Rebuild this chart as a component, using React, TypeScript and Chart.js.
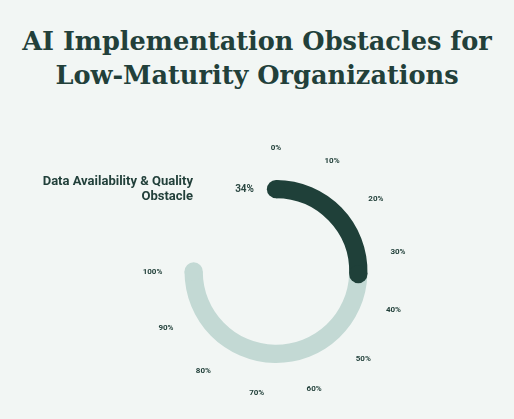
import React, { useEffect, useRef } from "react";
import { Chart, registerables } from "chart.js";

Chart.register(...registerables);

const titleLines = ["AI Implementation Obstacles for", "Low-Maturity Organizations"];
const categories = ["Data Availability & Quality Obstacle"];
const categoryLines = ["Data Availability & Quality", "Obstacle"];
const values = [34];
const maxValue = 100;
const tickValues = [0, 10, 20, 30, 40, 50, 60, 70, 80, 90, 100];
const tickLabels = tickValues.map((v) => `${v}%`);

const BG = "#f2f6f4";
const DARK = "#1f4039";
const TRACK = "#c3d9d4";
const TEXT = "#22403a";

const gaugePlugin = {
  id: "gaugeDecor",
  afterDatasetsDraw(chart: any) {
    const meta = chart.getDatasetMeta(0);
    const arcs = meta.data;
    if (!arcs.length) return;
    const first = arcs[0];
    const last = arcs[arcs.length - 1];
    const cx = first.x;
    const cy = first.y;
    const outer = first.outerRadius;
    const inner = first.innerRadius;
    const mid = (outer + inner) / 2;
    const capR = (outer - inner) / 2;
    const start = first.startAngle;
    const end = last.endAngle;
    const span = end - start;
    const ctx = chart.ctx;
    const pt = (a: number, r: number) => [cx + Math.cos(a) * r, cy + Math.sin(a) * r];
    ctx.save();
    // track end cap
    let [x, y] = pt(end, mid);
    ctx.fillStyle = TRACK;
    ctx.beginPath();
    ctx.arc(x, y, capR, 0, Math.PI * 2);
    ctx.fill();
    // value caps
    ctx.fillStyle = DARK;
    [x, y] = pt(first.startAngle, mid);
    ctx.beginPath();
    ctx.arc(x, y, capR, 0, Math.PI * 2);
    ctx.fill();
    [x, y] = pt(first.endAngle, mid);
    ctx.beginPath();
    ctx.arc(x, y, capR, 0, Math.PI * 2);
    ctx.fill();

    // tick labels
    ctx.fillStyle = TEXT;
    ctx.font = "bold 8px Roboto";
    ctx.textAlign = "center";
    ctx.textBaseline = "middle";
    const labelR = outer + 32;
    tickValues.forEach((v, i) => {
      const a = start + (v / maxValue) * span;
      const [lx, ly] = pt(a, labelR);
      ctx.fillText(tickLabels[i], lx, ly);
    });

    // value label and category label at the start of the bar
    const [sx, sy] = pt(start, mid);
    ctx.textAlign = "right";
    ctx.font = "bold 10px Roboto";
    ctx.fillStyle = "#2c4842";
    ctx.fillText(`${values[0]}%`, sx - 22, sy);
    ctx.font = "bold 13px Roboto";
    ctx.fillStyle = TEXT;
    ctx.fillText(categoryLines[0], sx - 83, sy - 7);
    ctx.fillText(categoryLines[1], sx - 83, sy + 8);
    ctx.restore();
  },
};

export default function App() {
  const ref = useRef<HTMLCanvasElement>(null);
  useEffect(() => {
    document.body.style.margin = "0";
    const chart = new Chart(ref.current!, {
      type: "doughnut",
      data: {
        labels: [categories[0], "Remaining"],
        datasets: [
          {
            data: [values[0], maxValue - values[0]],
            backgroundColor: [DARK, TRACK],
            borderWidth: 0,
          },
        ],
      },
      options: {
        animation: false,
        responsive: false,
        rotation: 0,
        circumference: 270,
        cutout: "80%",
        layout: { padding: { left: 184.5, right: 146.5, top: 180, bottom: 56 } },
        plugins: {
          legend: { display: false },
          tooltip: { enabled: false },
          title: { display: false },
        },
      },
      plugins: [gaugePlugin],
    });
    return () => chart.destroy();
  }, []);
  return (
    <div style={{ position: "relative", width: 514, height: 419, background: BG, overflow: "hidden" }}>
      <div
        style={{
          position: "absolute",
          top: 24,
          left: 0,
          width: 514,
          textAlign: "center",
          fontFamily: "'DejaVu Serif'",
          fontWeight: "bold",
          fontSize: 25.6,
          lineHeight: "34px",
          color: TEXT,
        }}
      >
        {titleLines.map((l, i) => (
          <div key={i}>{l}</div>
        ))}
      </div>
      <canvas ref={ref} width={514} height={419} style={{ position: "absolute", top: 0, left: 0 }} />
    </div>
  );
}
